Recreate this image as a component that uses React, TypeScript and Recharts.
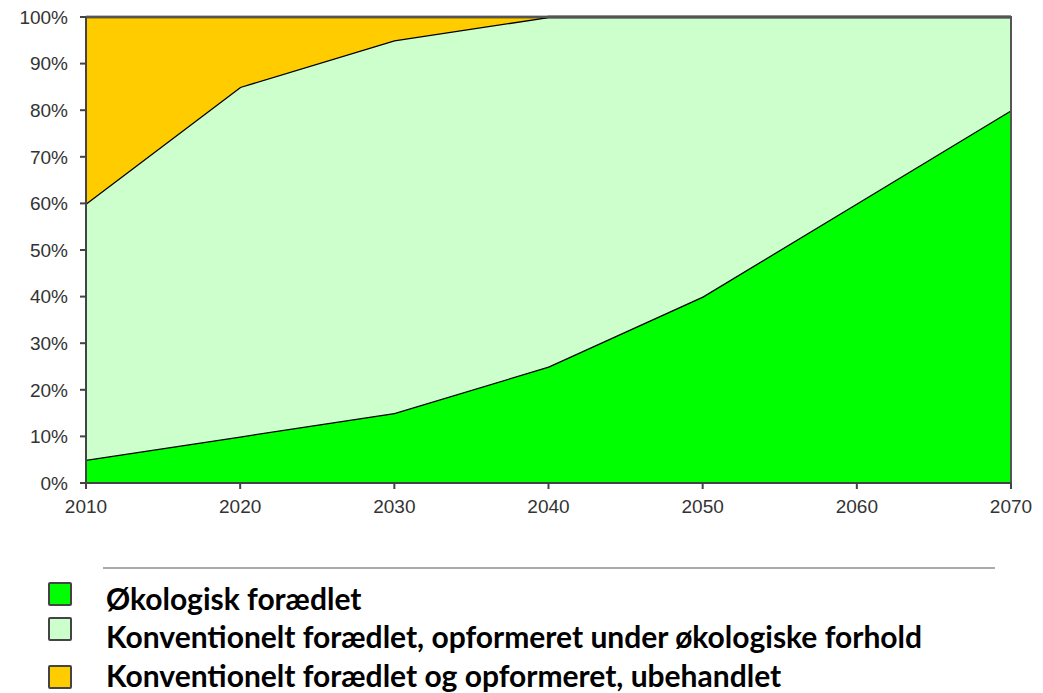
import React from 'react';
import { AreaChart, Area, XAxis, YAxis, ReferenceArea } from 'recharts';

const years = [2010, 2020, 2030, 2040, 2050, 2060, 2070];
const okologisk = [5, 10, 15, 25, 40, 60, 80];
const konvOkoForhold = [55, 75, 80, 75, 60, 40, 20];
const konvUbehandlet = [40, 15, 5, 0, 0, 0, 0];
const yTicks = [0, 10, 20, 30, 40, 50, 60, 70, 80, 90, 100];

const legendItems = [
  { label: 'Økologisk forædlet', color: '#00FF00' },
  { label: 'Konventionelt forædlet, opformeret under økologiske forhold', color: '#CCFFCC' },
  { label: 'Konventionelt forædlet og opformeret, ubehandlet', color: '#FFCC00' },
];
// legend rows are not evenly spaced in the original
const boxTops = [582, 617, 665];
const textTops = [580, 618, 657];

const chartData = years.map((year, i) => ({
  year,
  oko: okologisk[i],
  konvOko: konvOkoForhold[i],
  konvUbeh: konvUbehandlet[i],
}));

const tickStyle = { fontFamily: '"Liberation Sans", Arial, sans-serif', fontSize: 19, fill: '#333' };

export default function App() {
  return (
    <div style={{ position: 'absolute', left: 0, top: 0, width: 1043, height: 693, background: '#fff' }}>
      <AreaChart width={1043} height={540} data={chartData} margin={{ top: 17, right: 32, left: 0, bottom: 17 }}>
        <XAxis
          dataKey="year"
          height={40}
          tick={tickStyle}
          tickSize={6}
          tickMargin={11}
          stroke="#444"
          strokeWidth={2}
        />
        <YAxis
          width={86}
          domain={[0, 100]}
          ticks={yTicks}
          tickFormatter={(v: number) => `${v}%`}
          tick={tickStyle}
          tickSize={6}
          tickMargin={12}
          stroke="#444"
          strokeWidth={2}
          interval={0}
        />
        <Area type="linear" dataKey="oko" stackId="1" stroke="#000" strokeWidth={2.5} fill="#00FF00" fillOpacity={1} isAnimationActive={false} />
        <Area type="linear" dataKey="konvOko" stackId="1" stroke="#000" strokeWidth={2.5} fill="#CCFFCC" fillOpacity={1} isAnimationActive={false} />
        <Area type="linear" dataKey="konvUbeh" stackId="1" stroke="#000" strokeWidth={2.5} fill="#FFCC00" fillOpacity={1} isAnimationActive={false} />
        <ReferenceArea x1={2010} x2={2070} y1={0} y2={100} fill="none" stroke="#555" strokeWidth={2} />
      </AreaChart>
      <div style={{ position: 'absolute', left: 103, top: 567, width: 892, height: 2, background: '#aaa' }} />
      {legendItems.map((item, i) => (
        <React.Fragment key={item.label}>
          <div
            style={{
              position: 'absolute',
              left: 48,
              top: boxTops[i],
              width: 20,
              height: 20,
              background: item.color,
              border: '2px solid #444',
              borderRadius: 2,
            }}
          />
          <div
            style={{
              position: 'absolute',
              left: 106,
              top: textTops[i],
              fontFamily: 'Lato, sans-serif',
              fontWeight: 700,
              fontSize: 30,
              lineHeight: '36px',
              color: '#000',
              whiteSpace: 'nowrap',
            }}
          >
            {item.label}
          </div>
        </React.Fragment>
      ))}
    </div>
  );
}
